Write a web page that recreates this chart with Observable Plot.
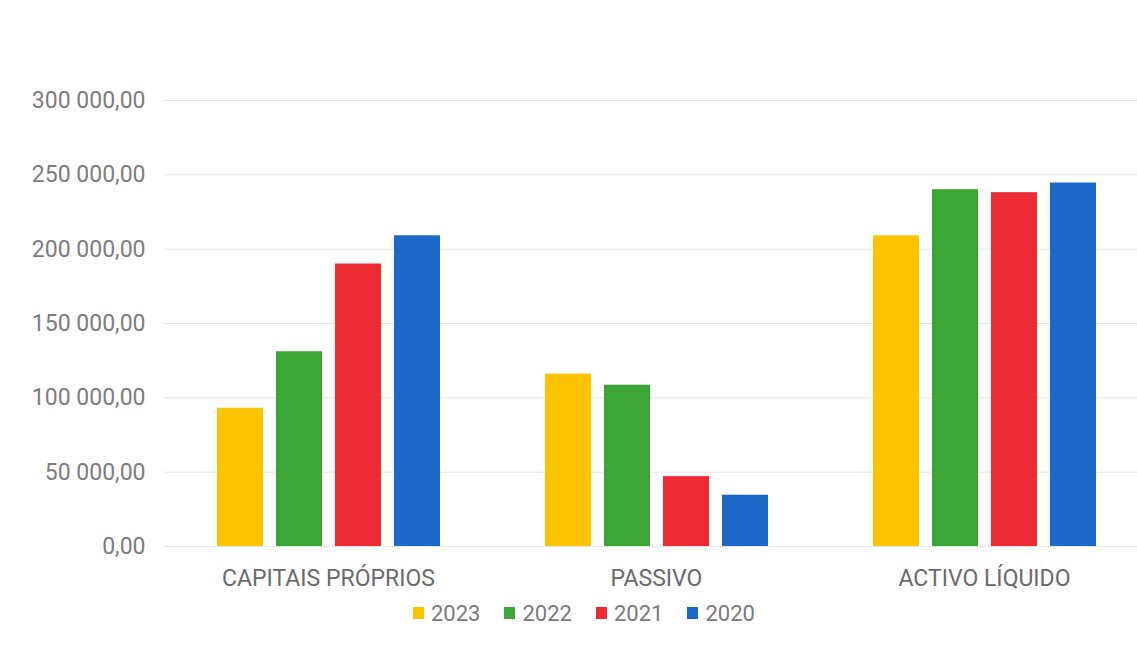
<!DOCTYPE html>
<html><head><meta charset="utf-8">
<script src="https://cdn.jsdelivr.net/npm/d3@7"></script>
<script src="https://cdn.jsdelivr.net/npm/@observablehq/plot@0.6"></script>
<style>
body{margin:0;background:#fff;font-family:Roboto, sans-serif;overflow:hidden;}
#legend{display:flex;align-items:center;height:26px;padding-left:413px;font-size:22px;color:#7a7a7a;}
#legend .item{display:flex;align-items:center;margin-right:24px;}
#legend .sw{width:11px;height:12px;margin-right:7px;}
</style></head>
<body>
<div id="chart"></div>
<div id="legend"></div>
<script>
const categories = ["CAPITAIS PRÓPRIOS", "PASSIVO", "ACTIVO LÍQUIDO"];
const years = ["2023", "2022", "2021", "2020"];
const values2023 = [93000, 116000, 209000];
const values2022 = [131000, 108500, 240000];
const values2021 = [190000, 47000, 238000];
const values2020 = [209000, 34500, 244500];
const colors = ["#fcc400", "#3ba535", "#ec2b33", "#1a68c8"];
const yTicks = [0, 50000, 100000, 150000, 200000, 250000, 300000];

const series = [values2023, values2022, values2021, values2020];
const data = categories.flatMap((c, i) => years.map((y, j) => ({category: c, year: y, value: series[j][i]})));
const fmt = d3.formatLocale({decimal: ",", thousands: " ", grouping: [3], currency: ["", ""]}).format(",.2f");

const chart = Plot.plot({
  width: 1137, height: 600,
  marginTop: 100, marginBottom: 54, marginLeft: 164, marginRight: 0,
  style: {fontFamily: "Roboto, sans-serif", fontSize: "23px", color: "#7a7a7a", background: "transparent"},
  fx: {domain: categories, range: [164, 1148], padding: 0, label: null},
  x: {domain: years, paddingInner: 0.227, paddingOuter: 0.87, axis: null},
  y: {domain: [0, 300000], label: null},
  color: {domain: years, range: colors},
  marks: [
    Plot.gridY(yTicks, {stroke: "#e4e4e4", strokeOpacity: 1}),
    Plot.axisY(yTicks, {tickSize: 0, tickPadding: 19, tickFormat: fmt, label: null, fill: "#7d7d7d"}),
    Plot.axisFx({anchor: "bottom", tickSize: 0, tickPadding: 23, label: null, fill: "#6a6a6a"}),
    Plot.barY(data, {fx: "category", x: "year", y: "value", fill: "year"})
  ]
});
document.getElementById("chart").appendChild(chart);

const legend = document.getElementById("legend");
years.forEach((y, i) => {
  const item = document.createElement("div");
  item.className = "item";
  const sw = document.createElement("span");
  sw.className = "sw";
  sw.style.background = colors[i];
  const t = document.createElement("span");
  t.textContent = y;
  item.appendChild(sw); item.appendChild(t);
  legend.appendChild(item);
});
</script>
</body></html>
